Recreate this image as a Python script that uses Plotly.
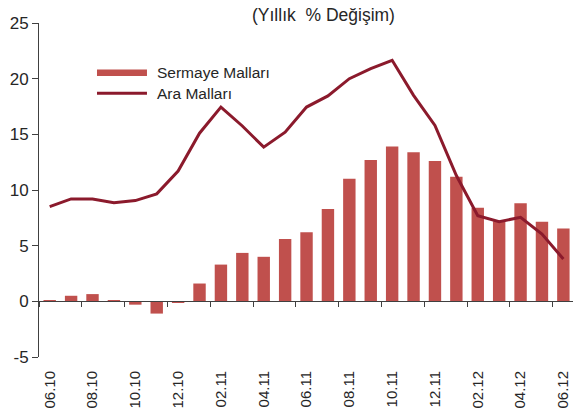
import plotly.graph_objects as go

months = ["06.10", "07.10", "08.10", "09.10", "10.10", "11.10", "12.10",
          "01.11", "02.11", "03.11", "04.11", "05.11", "06.11", "07.11",
          "08.11", "09.11", "10.11", "11.11", "12.11", "01.12", "02.12",
          "03.12", "04.12", "05.12", "06.12"]
sermaye = [0.08, 0.5, 0.65, 0.05, -0.3, -1.1, -0.15, 1.6, 3.3, 4.35, 4.0, 5.6,
           6.2, 8.3, 11.0, 12.7, 13.9, 13.4, 12.6, 11.2, 8.4, 7.2, 8.8, 7.15, 6.55]
ara = [8.5, 9.2, 9.2, 8.85, 9.05, 9.65, 11.7, 15.1, 17.45, 15.75, 13.85, 15.2,
       17.45, 18.45, 20.0, 20.9, 21.65, 18.5, 15.8, 11.3, 7.7, 7.15, 7.55, 6.05, 3.8]
tick_labels = months[::2]
y_ticks = [-5, 0, 5, 10, 15, 20, 25]
y_tick_text = ["-5", "0", "5", "10", "15", "20", "25"]
title_text = "(Yıllık\u00a0\u00a0% Değişim)"
legend_names = ["Sermaye Malları", "Ara Malları"]

BAR_COLOR = "#C0504D"
LINE_COLOR = "#8B1A2C"
TEXT_COLOR = "#262626"
AXIS_COLOR = "#404040"
FONT = "Liberation Sans, Arial, sans-serif"

fig = go.Figure()
fig.add_trace(go.Bar(x=months, y=sermaye, name=legend_names[0],
                     marker=dict(color=BAR_COLOR, line=dict(width=0)),
                     showlegend=False))
fig.add_trace(go.Scatter(x=months, y=ara, name=legend_names[1], mode="lines",
                         line=dict(color=LINE_COLOR, width=3),
                         showlegend=False))
# helper trace to host the zero-line axis with boundary ticks
fig.add_trace(go.Scatter(x=[], y=[], xaxis="x2", yaxis="y", showlegend=False,
                         hoverinfo="skip"))

xr = [-0.5, 24.45]
fig.update_layout(
    width=573, height=416,
    margin=dict(l=39, r=0, t=23, b=59, autoexpand=False),
    paper_bgcolor="white", plot_bgcolor="white",
    bargap=0.42,
    font=dict(family=FONT, color=TEXT_COLOR),
    xaxis=dict(type="category", range=xr, tickvals=tick_labels,
               ticktext=tick_labels, tickangle=-90, showline=False,
               showgrid=False, zeroline=False, ticks="",
               ticklabelstandoff=10,
               tickfont=dict(size=15, color=TEXT_COLOR)),
    xaxis2=dict(type="linear", overlaying="x", anchor="free",
                position=5 / 30, range=xr,
                tickvals=[i - 0.5 for i in range(0, 25, 2)],
                showticklabels=False, ticks="outside", ticklen=5,
                tickcolor=AXIS_COLOR, tickwidth=1,
                showline=True, linecolor=AXIS_COLOR, linewidth=1,
                showgrid=False, zeroline=False),
    yaxis=dict(range=[-5, 25], tickvals=y_ticks, ticktext=y_tick_text,
               showgrid=False, zeroline=False, showline=True,
               linecolor=AXIS_COLOR, linewidth=1, ticks="outside", ticklen=6,
               tickcolor=AXIS_COLOR, tickfont=dict(size=17, color=TEXT_COLOR)),
    showlegend=False,
)

# title
fig.add_annotation(text=title_text, xref="paper", yref="paper",
                   x=0.532, y=1.024, xanchor="center", yanchor="middle",
                   showarrow=False, font=dict(size=17.5, color=TEXT_COLOR))

# manual legend
fig.add_shape(type="rect", xref="paper", yref="paper",
              x0=0.1086, x1=0.2022, y0=0.841, y1=0.861,
              fillcolor=BAR_COLOR, line=dict(width=0))
fig.add_shape(type="line", xref="paper", yref="paper",
              x0=0.1086, x1=0.2022, y0=0.790, y1=0.790,
              line=dict(color=LINE_COLOR, width=3))
fig.add_annotation(text=legend_names[0], xref="paper", yref="paper",
                   x=0.217, y=0.852, xanchor="left", yanchor="middle",
                   showarrow=False, font=dict(size=15.5, color=TEXT_COLOR))
fig.add_annotation(text=legend_names[1], xref="paper", yref="paper",
                   x=0.217, y=0.790, xanchor="left", yanchor="middle",
                   showarrow=False, font=dict(size=15.5, color=TEXT_COLOR))

fig.write_html("out.html",
               config={"displayModeBar": False},
               post_script="document.body.style.margin='0';"
                           "document.body.style.overflow='hidden';")
